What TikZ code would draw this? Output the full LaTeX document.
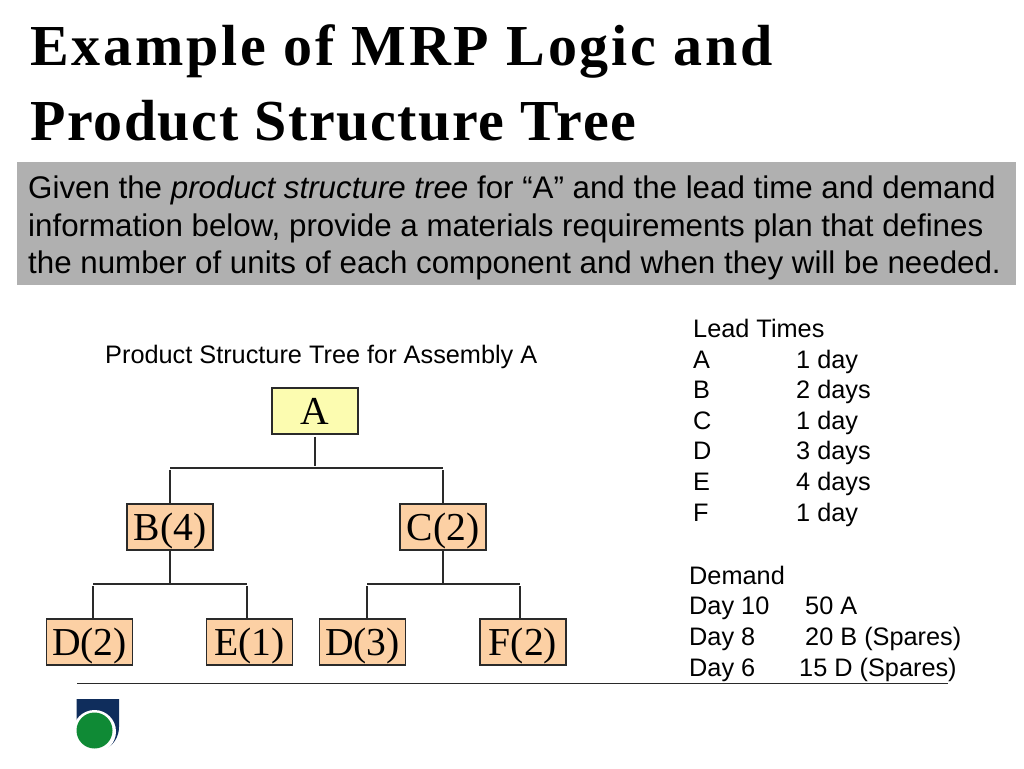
\documentclass[tikz,border=0pt]{standalone}
\usepackage{fontspec}
\setmainfont{Liberation Sans}
\newfontfamily\seriffam{Liberation Serif}
\newfontfamily\titlefamA[LetterSpace=4.8]{Liberation Serif Bold}
\newfontfamily\titlefamB[LetterSpace=2.75]{Liberation Serif Bold}
\definecolor{peach}{HTML}{FCD0A4}
\definecolor{paleyellow}{HTML}{FCFCB0}
\definecolor{bandgray}{HTML}{B0B0B0}
\definecolor{navy}{HTML}{0F2D5C}
\definecolor{logogreen}{HTML}{0F8A35}
\definecolor{linegray}{HTML}{2A2A2A}
\tikzset{
  treebox/.style={draw=linegray,line width=1.2pt,fill=peach,minimum width=86pt,minimum height=46pt,inner sep=0pt,text=black,text height=26pt,text depth=0pt,font=\seriffam\fontsize{39.6}{39.6}\selectfont},
  rootbox/.style={treebox,fill=paleyellow},
  link/.style={draw=linegray,line width=1.2pt},
  titletext/.style={anchor=base west,inner sep=0pt},
  bandtext/.style={anchor=base west,inner sep=0pt,font=\fontsize{31.3}{31.3}\selectfont},
  bodytext/.style={anchor=base west,inner sep=0pt,font=\fontsize{25.3}{25.3}\selectfont}
}
\begin{document}
\begin{tikzpicture}[x=1pt,y=-1pt]
\useasboundingbox (0,0) rectangle (1024,768);
\node[titletext,font=\titlefamA\fontsize{58}{58}\selectfont] (t1) at (30,65) {Example of MRP Logic and};
\node[titletext,font=\titlefamB\fontsize{58}{58}\selectfont] (t2) at (30,140) {Product Structure Tree};
\fill[bandgray] (17,162) rectangle (1016,285);
\node[bandtext] (g1) at (28,198) {Given the \textit{product structure tree} for “A” and the lead time and demand};
\node[bandtext] (g2) at (28,236) {information below, provide a materials requirements plan that defines};
\node[bandtext] (g3) at (28,273) {the number of units of each component and when they will be needed.};
\node[bodytext] (cap) at (105,363) {Product Structure Tree for Assembly A};
\node[rootbox] (A) at (315,411) {A};
\node[treebox] (B) at (170,527) {B(4)};
\node[treebox] (C) at (443,527) {C(2)};
\node[treebox] (D2) at (89.5,642) {D(2)};
\node[treebox] (E1) at (249.5,642) {E(1)};
\node[treebox] (D3) at (362.5,642) {D(3)};
\node[treebox] (F2) at (523,642) {F(2)};
\coordinate (jA) at (315,468);
\coordinate (jB) at (170,468);
\coordinate (jC) at (443,468);
\coordinate (jBd) at (170,584);
\coordinate (jCd) at (443,584);
\coordinate (jD2) at (93,584);
\coordinate (jE1) at (247,584);
\coordinate (jD3) at (367,584);
\coordinate (jF2) at (520,584);
\draw[link,shorten >=2pt,shorten <=2pt] (A.south) -- (jA);
\draw[link] (jB) -- (jC);
\draw[link,shorten <=2pt] (jB) -- (B.north);
\draw[link,shorten <=2pt] (jC) -- (C.north);
\draw[link,shorten >=1pt] (B.south) -- (jBd);
\draw[link,shorten >=1pt] (C.south) -- (jCd);
\draw[link] (jD2) -- (jE1);
\draw[link] (jD3) -- (jF2);
\draw[link,shorten <=2pt] (jD2) -- (jD2 |- D2.north);
\draw[link,shorten <=2pt] (jE1) -- (jE1 |- E1.north);
\draw[link,shorten <=2pt] (jD3) -- (jD3 |- D3.north);
\draw[link,shorten <=2pt] (jF2) -- (jF2 |- F2.north);
\node[bodytext] (lt) at (693,337) {Lead Times};
\node[bodytext] (la) at (693,368) {A}; \node[bodytext] (lav) at (796,368) {1 day};
\node[bodytext] (lb) at (693,398) {B}; \node[bodytext] (lbv) at (796,398) {2 days};
\node[bodytext] (lc) at (693,429) {C}; \node[bodytext] (lcv) at (796,429) {1 day};
\node[bodytext] (ld) at (693,459) {D}; \node[bodytext] (ldv) at (796,459) {3 days};
\node[bodytext] (le) at (693,490) {E}; \node[bodytext] (lev) at (796,490) {4 days};
\node[bodytext] (lf) at (693,521) {F}; \node[bodytext] (lfv) at (796,521) {1 day};
\node[bodytext] (dm) at (689,584) {Demand};
\node[bodytext] (d1) at (689,614) {Day 10}; \node[bodytext] (d1v) at (805,614) {50 A};
\node[bodytext] (d2) at (689,645) {Day 8}; \node[bodytext] (d2v) at (805,645) {20 B (Spares)};
\node[bodytext] (d3) at (689,676) {Day 6}; \node[bodytext] (d3v) at (799,676) {15 D (Spares)};
\draw[line width=1pt,draw=linegray] (77,683) -- (948,683);
\fill[navy] (76.5,699) -- (119,699) -- (119,727) arc[start angle=0,end angle=55,radius=25] -- (76.5,730) -- cycle;
\fill[white] (94.5,731.5) circle[radius=21.5];
\fill[logogreen] (94.5,730.5) circle[radius=18];
\end{tikzpicture}
\end{document}
